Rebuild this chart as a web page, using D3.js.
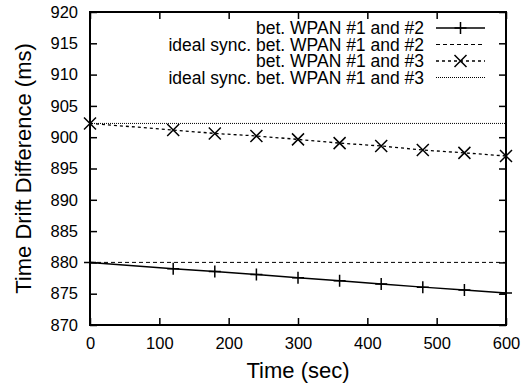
<!DOCTYPE html>
<html><head><meta charset="utf-8">
<script src="https://cdn.jsdelivr.net/npm/d3@7"></script>
<style>body{margin:0;background:#fff}svg{display:block}text{font-family:"Liberation Sans",Arial,sans-serif;fill:#000}</style>
</head><body><svg id="c" width="523" height="386"></svg>
<script>
const times = [0,120,180,240,300,360,420,480,540,600];
const wpan12 = [880.0,879.0,878.55,878.05,877.55,877.05,876.55,876.05,875.6,875.1];
const wpan13 = [902.2,901.15,900.6,900.2,899.65,899.05,898.6,897.95,897.5,897.0];
const ideal12 = 880.0;
const ideal13 = 902.2;
const xTicks = [0,100,200,300,400,500,600];
const yTicks = [870,875,880,885,890,895,900,905,910,915,920];
const legendLabels = ["bet. WPAN #1 and #2","ideal sync. bet. WPAN #1 and #2","bet. WPAN #1 and #3","ideal sync. bet. WPAN #1 and #3"];

const svg = d3.select("#c");
const L=90,R=506,T=12,B=325;
const x = d3.scaleLinear().domain([0,600]).range([L,R]);
const y = d3.scaleLinear().domain([870,920]).range([B,T]);
const tl = 7;

const g = svg.append("g");
g.append("g").attr("transform",`translate(0,${B})`).call(d3.axisBottom(x).tickValues(xTicks).tickSize(-tl).tickPadding(12).tickSizeOuter(0));
g.append("g").attr("transform",`translate(0,${T})`).call(d3.axisTop(x).tickValues(xTicks).tickSize(-tl).tickFormat("").tickSizeOuter(0));
g.append("g").attr("transform",`translate(${L},0)`).call(d3.axisLeft(y).tickValues(yTicks).tickSize(-tl).tickPadding(12).tickSizeOuter(0));
g.append("g").attr("transform",`translate(${R},0)`).call(d3.axisRight(y).tickValues(yTicks).tickSize(-tl).tickFormat("").tickSizeOuter(0));
g.selectAll(".domain").remove();
g.selectAll(".tick line").attr("stroke","#000").attr("stroke-width",1.5);
g.selectAll(".tick text").style("font-size","16.5px").style("font-family","'Liberation Sans', Arial, sans-serif").attr("fill","#000");
svg.append("rect").attr("x",L).attr("y",T).attr("width",R-L).attr("height",B-T).attr("fill","none").attr("stroke","#000").attr("stroke-width",2);

const line = d3.line().x(d=>x(d[0])).y(d=>y(d[1]));
const d12 = times.map((t,i)=>[t,wpan12[i]]);
const d13 = times.map((t,i)=>[t,wpan13[i]]);
svg.append("path").attr("d",line([[0,ideal12],[600,ideal12]])).attr("stroke","#000").attr("stroke-width",1).attr("stroke-dasharray","4,3").attr("fill","none");
svg.append("path").attr("d",line([[0,ideal13],[600,ideal13]])).attr("stroke","#000").attr("stroke-width",1).attr("stroke-dasharray","1,1").attr("fill","none");
svg.append("path").attr("d",line(d12)).attr("stroke","#000").attr("stroke-width",1.5).attr("fill","none");
svg.append("path").attr("d",line(d13)).attr("stroke","#000").attr("stroke-width",1.3).attr("stroke-dasharray","3,3").attr("fill","none");

const ms=6;
function plus(sel,cx,cy){sel.append("path").attr("d",`M${cx-ms},${cy}H${cx+ms}M${cx},${cy-ms}V${cy+ms}`).attr("stroke","#000").attr("stroke-width",1.5).attr("fill","none");}
function cross(sel,cx,cy){sel.append("path").attr("d",`M${cx-ms},${cy-ms}L${cx+ms},${cy+ms}M${cx-ms},${cy+ms}L${cx+ms},${cy-ms}`).attr("stroke","#000").attr("stroke-width",1.5).attr("fill","none");}
d12.forEach(d=>plus(svg,x(d[0]),y(d[1])));
d13.forEach(d=>cross(svg,x(d[0]),y(d[1])));

const ly=[28,44.5,61,77.5], lx1=436, lx2=485, tx=424;
const styles=[{w:1.5,da:null,m:"plus"},{w:1,da:"4,3",m:null},{w:1.3,da:"3,3",m:"cross"},{w:1,da:"1,1",m:null}];
legendLabels.forEach((lab,i)=>{
  svg.append("text").attr("x",tx).attr("y",ly[i]).attr("dy","0.35em").attr("text-anchor","end").style("font-size","17.5px").text(lab);
  const p=svg.append("path").attr("d",`M${lx1},${ly[i]}H${lx2}`).attr("stroke","#000").attr("stroke-width",styles[i].w).attr("fill","none");
  if(styles[i].da) p.attr("stroke-dasharray",styles[i].da);
  if(styles[i].m==="plus") plus(svg,(lx1+lx2)/2,ly[i]);
  if(styles[i].m==="cross") cross(svg,(lx1+lx2)/2,ly[i]);
});

svg.append("text").attr("x",(L+R)/2).attr("y",378).attr("text-anchor","middle").style("font-size","22px").text("Time (sec)");
svg.append("text").attr("transform",`translate(31,${(T+B)/2}) rotate(-90)`).attr("text-anchor","middle").style("font-size","22px").text("Time Drift Difference (ms)");
</script></body></html>
